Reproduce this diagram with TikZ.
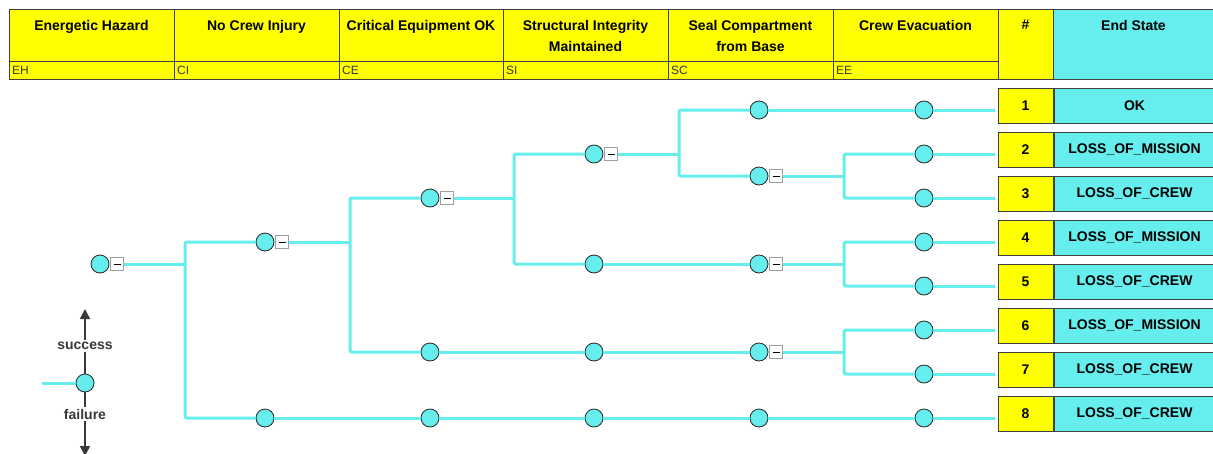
\documentclass[tikz,border=0pt]{standalone}
\usepackage{fontspec}
\setmainfont{Liberation Sans}
\usepackage{xcolor}
\usepackage{tikz}
\usetikzlibrary{arrows.meta,positioning}
\definecolor{etyellow}{rgb}{1.00,1.00,0.00}
\definecolor{etcyan}{RGB}{102,238,238}
\definecolor{gridgray}{gray}{0.25}
\definecolor{boxgray}{gray}{0.62}
\definecolor{labgray}{gray}{0.22}

\tikzset{
  tline/.style={draw=etcyan,line width=3pt,rounded corners=2pt},
  evnode/.style={circle,fill=etcyan,draw=black!85,line width=0.8pt,minimum size=18pt,inner sep=0pt},
  minusbox/.style={rectangle,fill=white,draw=boxgray,line width=1pt,minimum size=13pt,inner sep=0pt},
  hcell/.style={fill=etyellow,draw=gridgray,line width=1pt},
  htitle/.style={anchor=north,inner sep=0pt,align=center,font=\fontsize{14}{21}\selectfont\bfseries},
  hcode/.style={anchor=west,inner sep=0pt,text=labgray,font=\fontsize{12}{12}\selectfont},
  numbox/.style={rectangle,fill=etyellow,draw=gridgray,line width=1pt,minimum width=55pt,minimum height=35pt,inner sep=0pt,font=\fontsize{14}{14}\selectfont\bfseries},
  statebox/.style={rectangle,fill=etcyan,draw=gridgray,line width=1pt,minimum width=161pt,minimum height=35pt,inner sep=0pt,font=\fontsize{14}{14}\selectfont\bfseries},
  legarrow/.style={draw=labgray,line width=1.6pt},
  leglabel/.style={inner sep=2pt,text=labgray,font=\fontsize{14}{14}\selectfont\bfseries}
}

\begin{document}
\begin{tikzpicture}[x=1pt,y=-1pt]
        \useasboundingbox (0,0) rectangle (1213,453);
        % header row
        \foreach \i/\xa/\xb/\ttl/\cd in {1/9/174/{Energetic Hazard}/EH,2/174/339/{No Crew Injury}/CI,
            3/339/503/{Critical Equipment OK}/CE,4/503/668/{Structural Integrity\\Maintained}/SI,
            5/668/833/{Seal Compartment\\from Base}/SC,6/833/998/{Crew Evacuation}/EE}{
          \draw[hcell] (\xa,9) rectangle (\xb,61);
          \draw[hcell] (\xa,61) rectangle (\xb,79);
          \node[htitle] (h\i) at ({(\xa+\xb)/2},20) {\ttl};
          \node[hcode] (c\i) at (\xa+3,70.5) {\cd};
        }
        \draw[hcell] (998,9) rectangle (1053,79);
        \node[htitle] (hnum) at (1025.5,20) {\#};
        \draw[hcell,fill=etcyan] (1053,9) rectangle (1214,79);
        \node[htitle] (hend) at (1133.5,20) {End State};
        % end states
        \foreach \k/\st in {1/OK,2/LOSS\_OF\_MISSION,3/LOSS\_OF\_CREW,4/LOSS\_OF\_MISSION,
            5/LOSS\_OF\_CREW,6/LOSS\_OF\_MISSION,7/LOSS\_OF\_CREW,8/LOSS\_OF\_CREW}{
          \node[numbox] (n\k) at (1025.5,{61.5+44*\k}) {\k};
          \node[statebox,anchor=west] (s\k) at (n\k.east) {\st};
        }
        % event nodes
        \node[evnode] (eh) at (100,264) {};
        \node[evnode] (ci1) at (265,242) {};
        \node[evnode] (ci2) at (265,418) {};
        \node[evnode] (ce1) at (430,198) {};
        \node[evnode] (ce2) at (430,352) {};
        \node[evnode] (ce3) at (430,418) {};
        \node[evnode] (si1) at (594,154) {};
        \node[evnode] (si2) at (594,264) {};
        \node[evnode] (si3) at (594,352) {};
        \node[evnode] (si4) at (594,418) {};
        \node[evnode] (sc1) at (759,110) {};
        \node[evnode] (sc2) at (759,176) {};
        \node[evnode] (sc3) at (759,264) {};
        \node[evnode] (sc4) at (759,352) {};
        \node[evnode] (sc5) at (759,418) {};
        \foreach \k in {1,...,8}
          \node[evnode] (ee\k) at (924,{66+44*\k}) {};
        \foreach \nm in {eh,ci1,ce1,si1,sc2,sc3,sc4}
          \node[minusbox,right=1pt of \nm] (\nm-m) {\rule{7.5pt}{1pt}};
        % branch points
        \coordinate (b-eh) at (185,264);
        \coordinate (b-ci1) at (350,242);
        \coordinate (b-ce1) at (514,198);
        \coordinate (b-si1) at (679,154);
        \coordinate (b-sc2) at (844,176);
        \coordinate (b-sc3) at (844,264);
        \coordinate (b-sc4) at (844,352);
        \foreach \src/\up/\dn in {eh/ci1/ci2,ci1/ce1/ce2,ce1/si1/si2,si1/sc1/sc2,
            sc2/ee2/ee3,sc3/ee4/ee5,sc4/ee6/ee7}{
          \draw[tline] (\src-m.east) -- (b-\src);
          \draw[tline] (\up.west) -| (b-\src) |- (\dn.west);
        }
        \foreach \a/\b in {ci2/ce3,ce3/si4,si4/sc5,sc5/ee8,ce2/si3,si3/sc4,si2/sc3,sc1/ee1}
          \draw[tline] (\a.east) -- (\b.west);
        \foreach \k in {1,...,8}
          \draw[tline,shorten >=2.5pt] (ee\k.east) -- (ee\k.east -| n\k.west);
        % legend
        \node[evnode] (leg) at (85,383) {};
        \coordinate (leg-in) at (42,383);
        \draw[tline] (leg-in) -- (leg.west);
        \node[leglabel] (succ) at (85,346) {success};
        \node[leglabel] (fail) at (85,414) {failure};
        \coordinate (up-tip) at (85,309);
        \coordinate (dn-tip) at (85,456);
        \draw[legarrow] (leg.north) -- (succ.south);
        \draw[legarrow,-{Triangle[width=10pt,length=10pt]}] (succ.north) -- (up-tip);
        \draw[legarrow] (leg.south) -- (fail.north);
        \draw[legarrow,-{Triangle[width=10pt,length=10pt]}] (fail.south) -- (dn-tip);
      \end{tikzpicture}
\end{document}
